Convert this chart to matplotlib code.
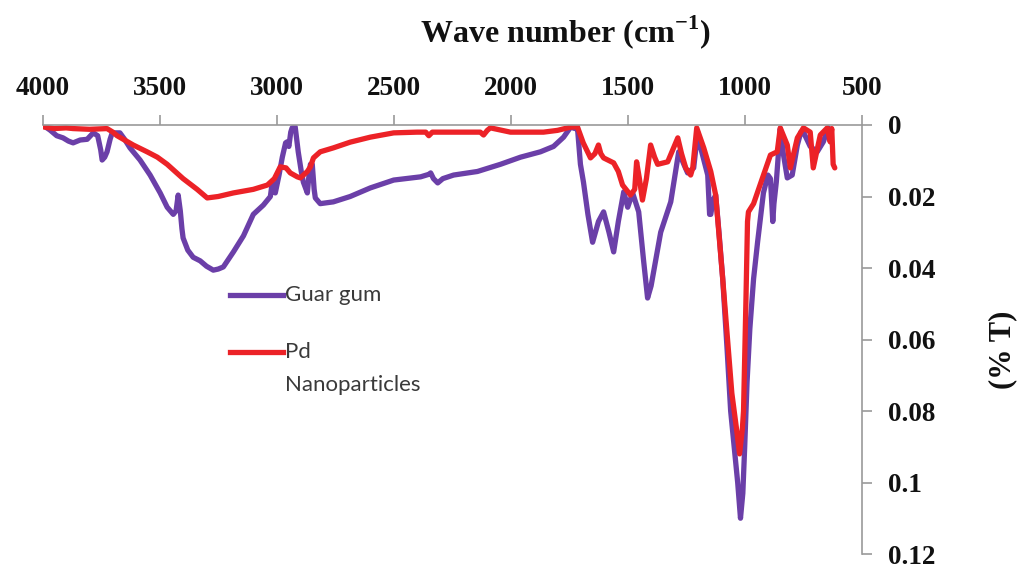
import matplotlib
matplotlib.use("Agg")
import matplotlib.pyplot as plt
from matplotlib.lines import Line2D

# FTIR spectra: wavenumber (cm^-1) and transmittance-axis value
guar_wn = [4000, 3969, 3940, 3913, 3890, 3870, 3840, 3810, 3784, 3765, 3752, 3746, 3735,
           3725, 3712, 3703, 3670, 3650, 3627, 3584, 3541, 3498, 3468, 3442, 3430, 3421,
           3412, 3405, 3400, 3380, 3357, 3327, 3300, 3271, 3250, 3228, 3185, 3142, 3100,
           3057, 3027, 3019, 3010, 3006, 2990, 2976, 2962, 2955, 2948, 2940, 2934, 2921,
           2908, 2895, 2886, 2869, 2862, 2856, 2848, 2840, 2835, 2814, 2758, 2686, 2600,
           2500, 2385, 2350, 2342, 2330, 2312, 2290, 2244, 2142, 2044, 1958, 1873, 1817,
           1774, 1744, 1725, 1715, 1702, 1689, 1670, 1650, 1625, 1603, 1580, 1560, 1540,
           1517, 1500, 1479, 1453, 1432, 1415, 1400, 1389, 1359, 1316, 1282, 1260, 1244,
           1218, 1201, 1188, 1170, 1158, 1150, 1145, 1135, 1124, 1110, 1094, 1075, 1060,
           1045, 1030, 1018, 1008, 1000, 990, 978, 962, 945, 920, 901, 890, 880, 875, 865,
           848, 835, 818, 797, 775, 760, 749, 720, 690, 664, 643, 630]
guar_t = [0.000, 0.0014, 0.003, 0.0036, 0.0045, 0.005, 0.0042, 0.004, 0.0022, 0.003, 0.007,
          0.0098, 0.009, 0.0075, 0.004, 0.0022, 0.0022, 0.004, 0.0064, 0.0098, 0.014, 0.019,
          0.023, 0.025, 0.024, 0.0196, 0.024, 0.029, 0.0316, 0.035, 0.037, 0.038, 0.0395,
          0.0406, 0.0403, 0.0397, 0.0355, 0.031, 0.025, 0.0224, 0.020, 0.016, 0.018, 0.019,
          0.014, 0.009, 0.005, 0.0047, 0.006, 0.002, 0.0008, 0.0005, 0.0075, 0.013, 0.016,
          0.019, 0.014, 0.011, 0.011, 0.018, 0.0204, 0.022, 0.0215, 0.020, 0.0176, 0.0154,
          0.0145, 0.0138, 0.0134, 0.015, 0.0162, 0.015, 0.014, 0.013, 0.011, 0.009, 0.0075,
          0.006, 0.0034, 0.0006, 0.001, 0.0005, 0.011, 0.016, 0.025, 0.0328, 0.027, 0.0243,
          0.030, 0.0355, 0.027, 0.0187, 0.023, 0.019, 0.0243, 0.038, 0.0484, 0.045, 0.041,
          0.030, 0.0215, 0.0075, 0.011, 0.0134, 0.012, 0.002, 0.0064, 0.011, 0.014, 0.025,
          0.025, 0.021, 0.0196, 0.030, 0.043, 0.063, 0.080, 0.090, 0.100, 0.110, 0.103,
          0.090, 0.072, 0.057, 0.043, 0.0328, 0.019, 0.014, 0.015, 0.027, 0.022, 0.016,
          0.001, 0.008, 0.0148, 0.014, 0.0056, 0.002, 0.002, 0.006, 0.0075, 0.0047, 0.0008,
          0.002]

pd_wn = [4000, 3950, 3900, 3870, 3800, 3725, 3700, 3682, 3613, 3554, 3510, 3468, 3400,
         3340, 3297, 3250, 3185, 3100, 3040, 3010, 2985, 2960, 2942, 2912, 2899, 2869,
         2856, 2843, 2814, 2758, 2686, 2600, 2500, 2400, 2363, 2350, 2335, 2215, 2130,
         2116, 2100, 2087, 2001, 1860, 1800, 1744, 1715, 1690, 1659, 1640, 1625, 1615,
         1603, 1560, 1540, 1522, 1488, 1470, 1462, 1450, 1437, 1420, 1402, 1385, 1372,
         1329, 1286, 1270, 1252, 1231, 1222, 1205, 1175, 1145, 1124, 1094, 1055, 1035,
         1022, 1010, 1005, 995, 988, 984, 962, 924, 890, 861, 848, 818, 805, 775, 749,
         720, 707, 677, 647, 635, 628, 622, 615]
pd_t = [0.0005, 0.001, 0.0008, 0.001, 0.0012, 0.001, 0.002, 0.003, 0.0056, 0.0075, 0.009,
        0.011, 0.015, 0.018, 0.0204, 0.020, 0.019, 0.018, 0.0168, 0.015, 0.0117, 0.012,
        0.0134, 0.0145, 0.0148, 0.013, 0.0117, 0.0092, 0.0075, 0.0064, 0.0048, 0.0034,
        0.0022, 0.002, 0.002, 0.003, 0.002, 0.002, 0.002, 0.0028, 0.0015, 0.0008, 0.002,
        0.002, 0.0015, 0.0006, 0.0005, 0.005, 0.0092, 0.008, 0.0056, 0.008, 0.0092, 0.0106,
        0.013, 0.0168, 0.0196, 0.018, 0.0103, 0.015, 0.021, 0.015, 0.0056, 0.009, 0.011,
        0.0103, 0.0036, 0.008, 0.012, 0.014, 0.012, 0.0008, 0.0064, 0.013, 0.0196, 0.043,
        0.075, 0.085, 0.092, 0.085, 0.080, 0.050, 0.027, 0.0243, 0.022, 0.0148, 0.0084,
        0.0075, 0.0008, 0.0056, 0.012, 0.0036, 0.0008, 0.002, 0.012, 0.0028, 0.0008,
        0.0047, 0.001, 0.011, 0.012]

x_ticks = [4000, 3500, 3000, 2500, 2000, 1500, 1000, 500]
y_ticks = [0, 0.02, 0.04, 0.06, 0.08, 0.1, 0.12]
y_tick_labels = ["0", "0.02", "0.04", "0.06", "0.08", "0.1", "0.12"]

series_labels = ["Guar gum", "Pd", "Nanoparticles"]
purple = "#6B3FA8"
red = "#EC2227"
axis_grey = "#9A9A9A"
ink = "#111111"
serif = ["Liberation Serif", "DejaVu Serif"]

plt.rcParams["mathtext.fontset"] = "custom"
plt.rcParams["mathtext.rm"] = "Liberation Serif"
plt.rcParams["mathtext.bf"] = "Liberation Serif:bold"

fig = plt.figure(figsize=(10.21, 5.65), dpi=100)
ax = fig.add_axes([42.7 / 1021, 1 - 554 / 565, (861.7 - 42.7) / 1021, (554 - 125) / 565])

ax.plot(guar_wn, guar_t, color=purple, lw=3.8, solid_joinstyle="round", solid_capstyle="round")
ax.plot(pd_wn, pd_t, color=red, lw=3.8, solid_joinstyle="round", solid_capstyle="round")

ax.set_xlim(4000, 500)
ax.set_ylim(0.12, 0)

for side in ("left", "bottom"):
    ax.spines[side].set_visible(False)
for side in ("top", "right"):
    ax.spines[side].set_color(axis_grey)
    ax.spines[side].set_linewidth(1.2)

ax.xaxis.set_ticks_position("top")
ax.yaxis.set_ticks_position("right")
ax.set_xticks(x_ticks)
ax.set_xticklabels([str(t) for t in x_ticks])
ax.set_yticks(y_ticks)
ax.set_yticklabels(y_tick_labels)
ax.tick_params(axis="both", direction="out", length=7, width=1.2, color=axis_grey)
ax.tick_params(axis="x", pad=10)
ax.tick_params(axis="y", pad=12)
for lab in ax.get_xticklabels() + ax.get_yticklabels():
    lab.set_fontfamily(serif)
    lab.set_fontweight("bold")
    lab.set_fontsize(19.5)
    lab.set_color(ink)

fig.text(565 / 1021, 1 - 32 / 565, r"Wave number (cm$^{\mathbf{-1}}$)", ha="center", va="center",
         fontsize=23, fontweight="bold", family=serif, color=ink)
fig.text(1003 / 1021, 1 - 350 / 565, "(% T)", ha="center", va="center", rotation=90,
         fontsize=22, fontweight="bold", family=serif, color=ink)

# hand-placed key with plain line swatches
legend_font = ["Lato", "DejaVu Sans"]
legend_grey = "#3A3A3A"
for y_pix, col in [(295, purple), (352, red)]:
    yf = 1 - y_pix / 565
    fig.add_artist(Line2D([230 / 1021, 283 / 1021], [yf, yf], color=col, lw=3.8,
                          transform=fig.transFigure))
for y_pix, lab in [(295, series_labels[0]), (352, series_labels[1]), (385, series_labels[2])]:
    fig.text(285 / 1021, 1 - y_pix / 565, lab, ha="left", va="center",
             fontsize=16, family=legend_font, color=legend_grey)

fig.savefig("out.png", dpi=100, facecolor="white")
